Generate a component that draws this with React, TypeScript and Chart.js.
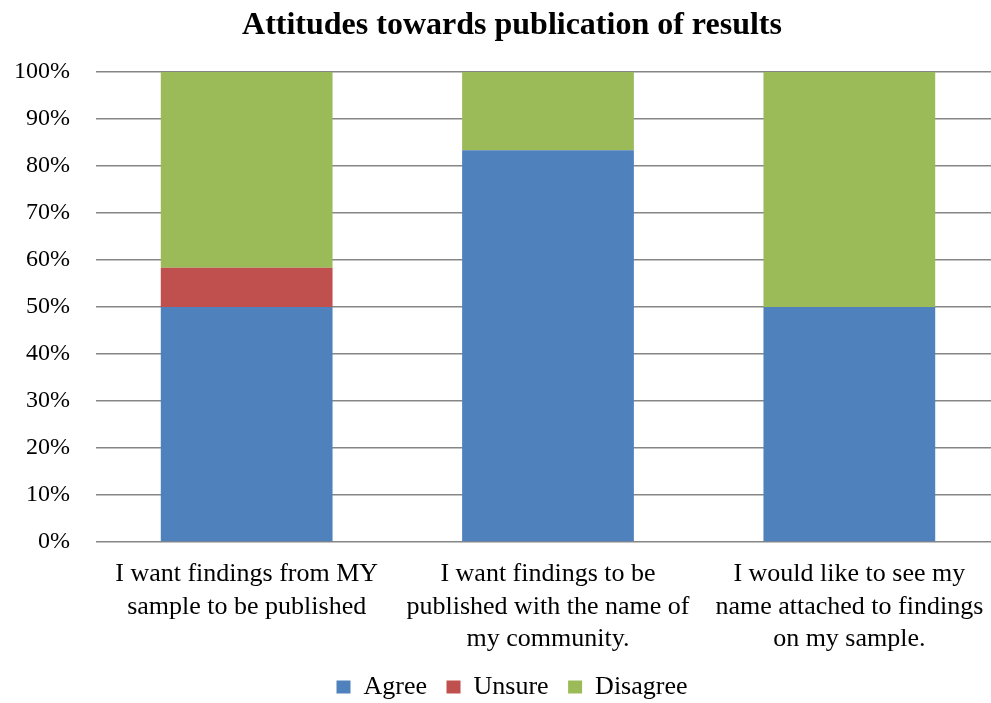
import React, { useEffect, useRef } from "react";
import { Chart, registerables } from "chart.js";

Chart.register(...registerables);

const TITLE = "Attitudes towards publication of results";

const categories: string[][] = [
  ["I want findings from MY", "sample to be published"],
  ["I want findings to be", "published with the name of", "my community."],
  ["I would like to see my", "name attached to findings", "on my sample."],
];

// Share of respondents (%) per statement
const agree = [50, 83.33, 50];
const unsure = [8.33, 0, 0];
const disagree = [41.67, 16.67, 50];

const yTicks = [0, 10, 20, 30, 40, 50, 60, 70, 80, 90, 100];

const FONT = "'Liberation Serif', 'Times New Roman', serif";

export default function App() {
  const canvasRef = useRef<HTMLCanvasElement | null>(null);

  useEffect(() => {
    document.body.style.margin = "0";
    const ctx = canvasRef.current!.getContext("2d")!;
    const chart = new Chart(ctx, {
      type: "bar",
      data: {
        labels: categories,
        datasets: [
          { label: "Agree", data: agree, backgroundColor: "#4F81BD" },
          { label: "Unsure", data: unsure, backgroundColor: "#C0504D" },
          { label: "Disagree", data: disagree, backgroundColor: "#9BBB59" },
        ],
      },
      options: {
        animation: false,
        responsive: false,
        maintainAspectRatio: false,
        layout: { padding: { top: 7, right: 0, left: 0, bottom: 0 } },
        datasets: {
          bar: { categoryPercentage: 1, barPercentage: 0.57 },
        },
        plugins: {
          title: {
            display: true,
            text: TITLE,
            color: "#000",
            font: { family: FONT, size: 32, weight: "bold", lineHeight: 1.2 },
            padding: { top: 0, bottom: 26.6 },
          },
          legend: {
            position: "bottom",
            labels: {
              color: "#000",
              font: { family: FONT, size: 26 },
              boxWidth: 14,
              boxHeight: 13,
              padding: 19.5,
            },
          },
          tooltip: { enabled: false },
        },
        scales: {
          x: {
            stacked: true,
            grid: { display: false, drawTicks: false },
            border: { display: false },
            afterFit: (scale: any) => {
              scale.height -= 17;
            },
            ticks: {
              color: "#000",
              font: { family: FONT, size: 26, lineHeight: 1.25 },
              padding: 16,
              maxRotation: 0,
              autoSkip: false,
            },
          },
          y: {
            stacked: true,
            min: 0,
            max: 100,
            afterBuildTicks: (scale: any) => {
              scale.ticks = yTicks.map((v) => ({ value: v }));
            },
            afterFit: (scale: any) => {
              scale.width = 96;
            },
            grid: { color: "#868686", lineWidth: 1.5, drawTicks: false },
            border: { display: false },
            ticks: {
              color: "#000",
              font: { family: FONT, size: 24 },
              padding: 26,
              callback: (v: any) => v + "%",
            },
          },
          // empty right-hand margin beside the plot
          yRight: {
            type: "linear",
            position: "right",
            grid: { display: false, drawTicks: false },
            border: { display: false },
            ticks: { display: false },
            afterFit: (scale: any) => {
              scale.width = 24;
            },
          },
        },
      },
    });
    return () => chart.destroy();
  }, []);

  return (
    <div style={{ position: "fixed", left: 0, top: 0, width: 991, height: 703, overflow: "hidden", background: "#fff" }}>
      <canvas ref={canvasRef} width={1024} height={710} style={{ display: "block" }} />
    </div>
  );
}
